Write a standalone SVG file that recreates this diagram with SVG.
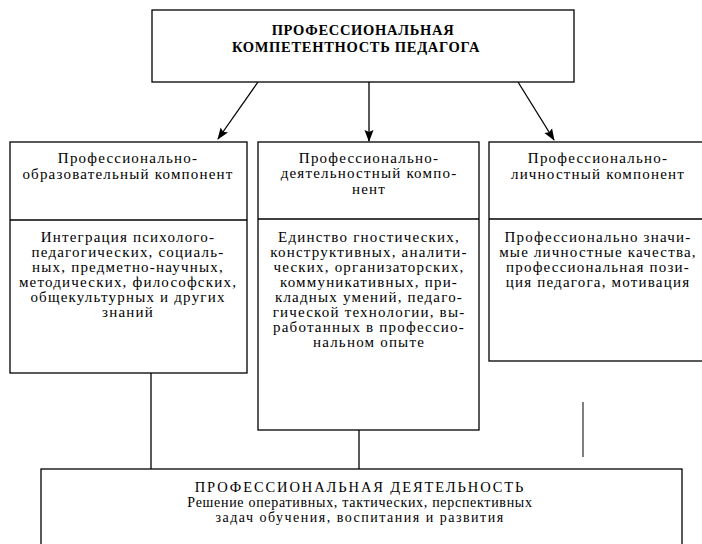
<svg xmlns="http://www.w3.org/2000/svg" width="702" height="544" viewBox="0 0 702 544">
<defs>
<marker id="ah" viewBox="0 0 12 12" refX="11" refY="6" markerWidth="12" markerHeight="12" markerUnits="userSpaceOnUse" orient="auto">
<path d="M0,1.5 L12,6 L0,10.5 L2,6 Z" fill="#000"/>
</marker>
<style>
.box{fill:#fff;stroke:#000;stroke-width:1.3}
.ln{stroke:#000;stroke-width:1.3;fill:none}
.t{font-family:"Liberation Serif","Times New Roman",serif;font-size:15px;fill:#000;text-anchor:middle;letter-spacing:1.2px}
.c{font-family:"Liberation Serif","Times New Roman",serif;font-size:14.5px;fill:#000;text-anchor:middle;letter-spacing:1.9px}
.s{font-family:"Liberation Serif","Times New Roman",serif;font-size:14px;fill:#000;text-anchor:middle;letter-spacing:0.7px}
.s2{font-family:"Liberation Serif","Times New Roman",serif;font-size:14px;fill:#000;text-anchor:middle;letter-spacing:1.5px}
.b{font-family:"Liberation Serif","Times New Roman",serif;font-size:14.5px;font-weight:bold;fill:#000;text-anchor:middle;letter-spacing:0.7px}
</style>
</defs>
<rect width="702" height="544" fill="#fff"/>
<g id="connectors">
<line class="ln" x1="258" y1="82" x2="218" y2="139" marker-end="url(#ah)"/>
<line class="ln" x1="369" y1="82" x2="369" y2="141" marker-end="url(#ah)"/>
<line class="ln" x1="518" y1="82" x2="554" y2="140" marker-end="url(#ah)"/>
<line class="ln" x1="151" y1="373" x2="151" y2="469"/>
<line class="ln" x1="359" y1="430" x2="359" y2="469"/>
<line x1="583" y1="402" x2="583" y2="457" stroke="#000" stroke-width="1"/>
</g>
<g id="top">
<rect class="box" x="152" y="10" width="422" height="72"/>
<text class="b" x="363" y="35">ПРОФЕССИОНАЛЬНАЯ</text>
<text class="b" x="356" y="52">КОМПЕТЕНТНОСТЬ ПЕДАГОГА</text>
</g>
<g id="left">
<rect class="box" x="10" y="142" width="237" height="231"/>
<line class="ln" x1="10" y1="220" x2="247" y2="220"/>
<text class="t" x="128" y="163">Профессионально-</text>
<text class="t" x="128" y="179">образовательный компонент</text>
<text class="t" x="128" y="242">Интеграция психолого-</text>
<text class="t" x="128" y="257">педагогических, социаль-</text>
<text class="t" x="128" y="272">ных, предметно-научных,</text>
<text class="t" x="128" y="287">методических, философских,</text>
<text class="t" x="128" y="302">общекультурных и других</text>
<text class="t" x="128" y="317">знаний</text>
</g>
<g id="middle">
<rect class="box" x="258" y="142" width="221" height="288"/>
<line class="ln" x1="258" y1="219" x2="479" y2="219"/>
<text class="t" x="369" y="163">Профессионально-</text>
<text class="t" x="369" y="178">деятельностный компо-</text>
<text class="t" x="369" y="194">нент</text>
<text class="t" x="369" y="242">Единство гностических,</text>
<text class="t" x="369" y="257">конструктивных, аналити-</text>
<text class="t" x="369" y="272">ческих, организаторских,</text>
<text class="t" x="369" y="287">коммуникативных, при-</text>
<text class="t" x="369" y="302">кладных умений, педаго-</text>
<text class="t" x="369" y="317">гической технологии, вы-</text>
<text class="t" x="369" y="332">работанных в профессио-</text>
<text class="t" x="369" y="347">нальном опыте</text>
</g>
<g id="right">
<rect class="box" x="489" y="142" width="220" height="219"/>
<line class="ln" x1="489" y1="219" x2="709" y2="219"/>
<text class="t" x="598" y="163">Профессионально-</text>
<text class="t" x="598" y="179">личностный компонент</text>
<text class="t" x="598" y="242">Профессионально значи-</text>
<text class="t" x="598" y="257">мые личностные качества,</text>
<text class="t" x="598" y="272">профессиональная пози-</text>
<text class="t" x="598" y="287">ция педагога, мотивация</text>
</g>
<g id="bottom">
<rect class="box" x="41" y="469" width="641" height="100"/>
<text class="c" x="360" y="492">ПРОФЕССИОНАЛЬНАЯ ДЕЯТЕЛЬНОСТЬ</text>
<text class="s" x="360" y="507">Решение оперативных, тактических, перспективных</text>
<text class="s2" x="360" y="522">задач обучения, воспитания и развития</text>
</g>
</svg>
